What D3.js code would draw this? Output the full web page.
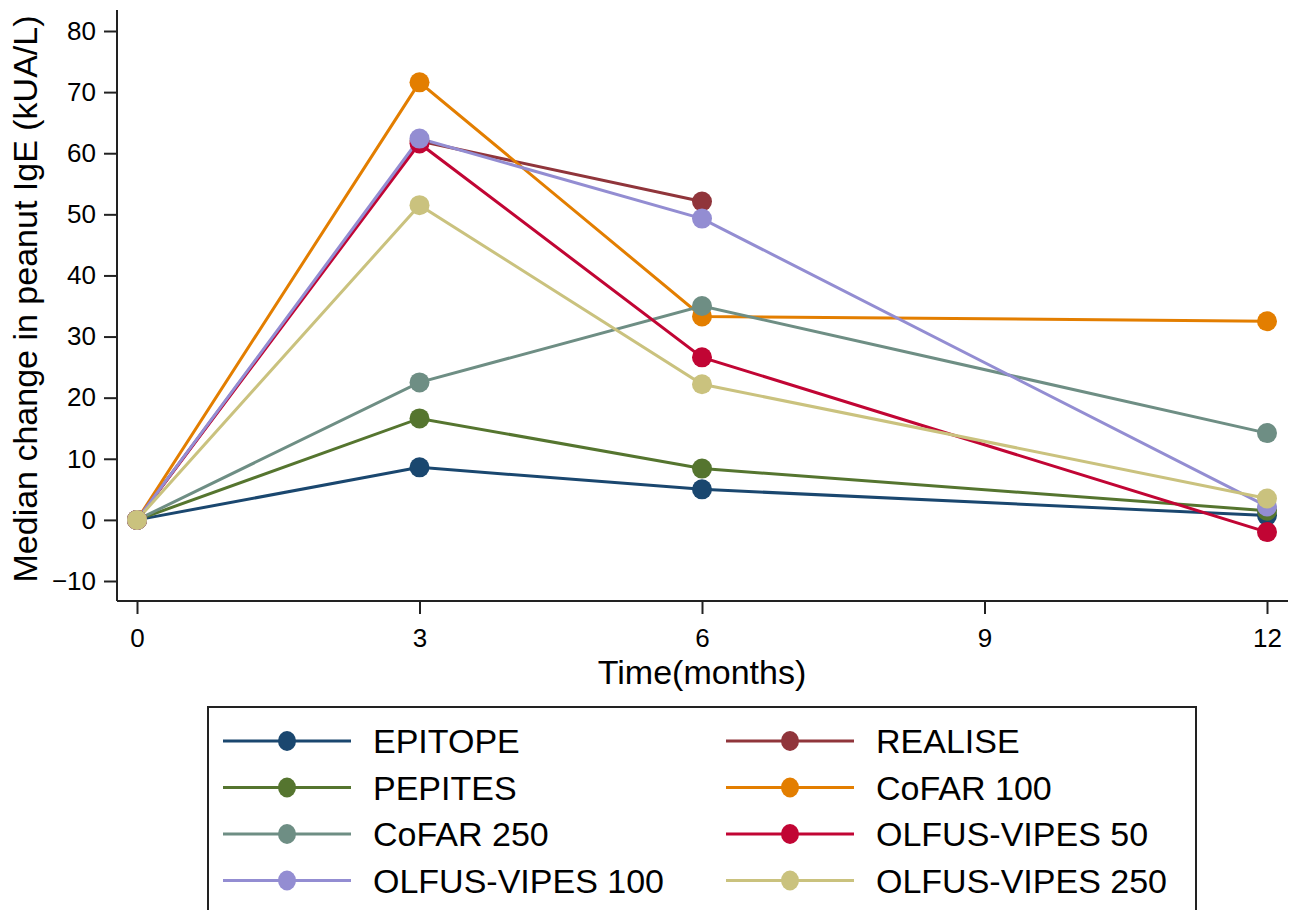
<!DOCTYPE html>
<html>
<head>
<meta charset="utf-8">
<script src="https://cdn.jsdelivr.net/npm/d3@7"></script>
<style>
body { margin: 0; background: #fff; }
svg { font-family: "Liberation Sans", Arial, sans-serif; }
</style>
</head>
<body>
<div class="graphic"></div>
<script>
var width = 1291;
var height = 910;

// data
var months = [0, 3, 6, 12];
var xTicks = [0, 3, 6, 9, 12];
var yTicks = [-10, 0, 10, 20, 30, 40, 50, 60, 70, 80];
var names = ["EPITOPE", "REALISE", "PEPITES", "CoFAR 100", "CoFAR 250",
	"OLFUS-VIPES 50", "OLFUS-VIPES 100", "OLFUS-VIPES 250"];
var colors = ["#1a476f", "#90353b", "#55752f", "#e37e00", "#6e8e84",
	"#c10534", "#938dd2", "#cac27e"];
var epitope = [0, 8.6, 5.0, 0.7];
var realise = [0, 62.0, 52.1, null];
var pepites = [0, 16.6, 8.4, 1.5];
var cofar100 = [0, 71.6, 33.3, 32.5];
var cofar250 = [0, 22.5, 35.0, 14.2];
var olfus50 = [0, 61.6, 26.6, -2.0];
var olfus100 = [0, 62.4, 49.3, 2.2];
var olfus250 = [0, 51.5, 22.2, 3.5];
var values = [epitope, realise, pepites, cofar100, cofar250, olfus50, olfus100, olfus250];

var svg = d3.select("div.graphic").append("svg")
	.attr("width", width)
	.attr("height", height);

var x = d3.scaleLinear().domain([0, 12]).range([137, 1267]);
var y = d3.scaleLinear().domain([-10, 80]).range([581, 31]);

// axes
var xAxis = svg.append("g")
	.attr("transform", "translate(0,601)")
	.call(d3.axisBottom(x).tickValues(xTicks).tickSize(13).tickPadding(15).tickSizeOuter(0));
xAxis.select(".domain").attr("d", "M117,0H1288");

var yAxis = svg.append("g")
	.attr("transform", "translate(117,0)")
	.call(d3.axisLeft(y).tickValues(yTicks).tickSize(13).tickPadding(8).tickSizeOuter(0));
yAxis.select(".domain").attr("d", "M0,10V601");

svg.selectAll(".tick text").attr("font-size", 26).attr("fill", "#000")
	.attr("font-family", "Liberation Sans, Arial, sans-serif");
svg.selectAll(".tick line, .domain").attr("stroke", "#222").attr("stroke-width", 2);

svg.append("text")
	.attr("x", 702).attr("y", 684)
	.attr("text-anchor", "middle")
	.attr("font-size", 34)
	.text("Time(months)");

svg.append("text")
	.attr("transform", "translate(37,299) rotate(-90)")
	.attr("text-anchor", "middle")
	.attr("font-size", 34)
	.text("Median change in peanut IgE (kUA/L)");

// series
var line = d3.line()
	.defined(function(d) { return d != null; })
	.x(function(d, i) { return x(months[i]); })
	.y(function(d) { return y(d); });

var series = svg.append("g");
values.forEach(function(vals, k) {
	series.append("path")
		.attr("d", line(vals))
		.attr("fill", "none")
		.attr("stroke", colors[k])
		.attr("stroke-width", 3);
});
values.forEach(function(vals, k) {
	series.selectAll(null)
		.data(vals.map(function(v, i) { return {v: v, m: months[i]}; })
			.filter(function(d) { return d.v != null; }))
		.enter()
		.append("circle")
		.attr("cx", function(d) { return x(d.m); })
		.attr("cy", function(d) { return y(d.v); })
		.attr("r", 10)
		.attr("fill", colors[k]);
});

// legend
var legend = svg.append("g");
legend.append("rect")
	.attr("x", 208).attr("y", 707)
	.attr("width", 988).attr("height", 230)
	.attr("fill", "#fff")
	.attr("stroke", "#222")
	.attr("stroke-width", 2);

names.forEach(function(name, k) {
	var col = k % 2;
	var row = Math.floor(k / 2);
	var lx = 223 + col * 503;
	var ly = 741 + row * 46.5;
	var item = legend.append("g").attr("transform", "translate(" + lx + "," + ly + ")");
	item.append("line")
		.attr("x1", 0).attr("x2", 128)
		.attr("y1", 0).attr("y2", 0)
		.attr("stroke", colors[k]).attr("stroke-width", 3);
	item.append("ellipse")
		.attr("cx", 64).attr("cy", 0)
		.attr("rx", 9).attr("ry", 10)
		.attr("fill", colors[k]);
	item.append("text")
		.attr("x", 150).attr("y", 0)
		.attr("dy", "0.36em")
		.attr("font-size", 34)
		.text(name);
});
</script>
</body>
</html>
